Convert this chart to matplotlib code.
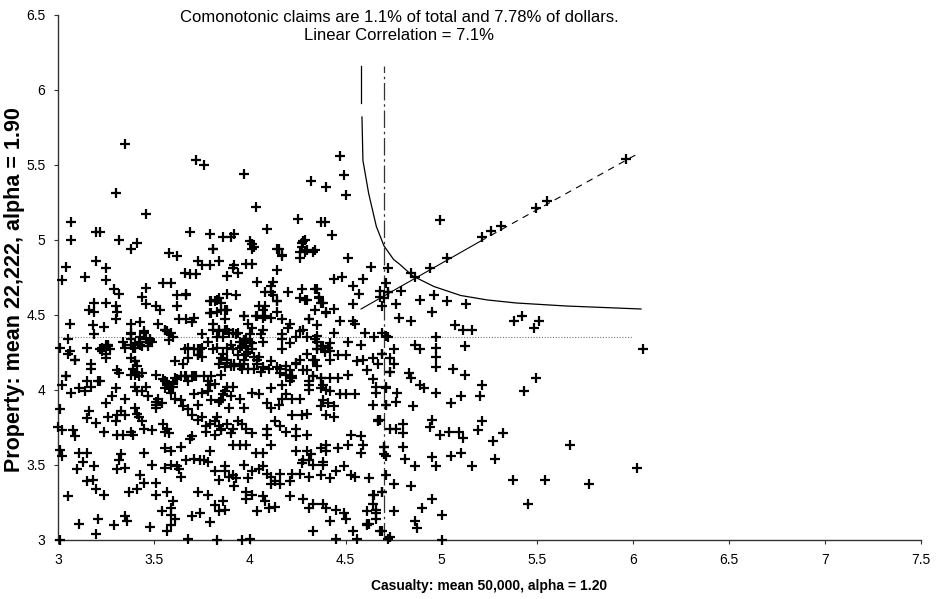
import numpy as np
import matplotlib
matplotlib.use("Agg")
import matplotlib.pyplot as plt

plt.rcParams['font.family'] = ['Liberation Sans', 'DejaVu Sans']

# log10 claim sizes: (casualty, property)
cluster_pts = [
    (3.07, 5.12), (3.07, 5.00), (3.35, 5.64), (3.30, 5.31), (3.32, 5.00), (3.20, 5.05), (3.22, 5.05),
    (3.46, 5.17), (3.38, 4.94), (3.41, 4.98), (3.72, 5.53), (3.76, 5.50), (3.69, 5.05), (3.79, 5.04),
    (3.81, 4.94), (3.86, 5.02), (3.90, 5.02), (3.92, 5.04), (3.97, 5.44), (4.03, 5.22), (4.00, 4.99),
    (4.02, 4.95), (4.09, 5.07), (4.14, 4.94), (4.17, 4.90), (4.25, 5.14), (4.32, 5.39), (4.40, 5.35),
    (4.37, 5.12), (4.39, 5.12), (4.27, 4.98), (4.29, 5.00), (4.26, 4.92), (4.29, 4.92), (4.33, 4.92),
    (3.58, 4.91), (3.62, 4.89), (4.47, 5.56), (4.49, 5.43), (4.50, 5.30), (4.43, 5.03), (4.01, 4.97),
    (4.01, 4.94), (4.28, 4.99), (4.27, 4.95), (4.30, 4.93), (4.34, 4.93), (4.26, 4.88), (4.15, 4.94),
    (4.17, 4.89), (4.51, 4.88), (4.63, 4.82), (4.72, 4.81), (4.44, 4.74), (4.48, 4.75), (4.59, 4.74),
    (4.54, 4.69), (4.57, 4.64), (4.54, 4.57), (4.68, 4.66), (4.70, 4.61), (4.69, 4.56), (4.72, 4.65),
    (4.71, 4.71), (3.98, 4.84), (4.01, 4.84), (3.92, 4.83), (3.91, 4.81), (3.94, 4.78), (3.88, 4.76),
    (4.14, 4.80), (4.04, 4.72), (4.12, 4.72), (4.11, 4.69), (4.08, 4.65), (4.11, 4.65), (4.12, 4.63),
    (4.20, 4.65), (4.14, 4.59), (3.88, 4.64), (3.93, 4.63), (4.26, 4.61), (4.29, 4.60), (4.34, 4.67),
    (4.36, 4.62), (4.37, 4.58), (4.40, 4.52), (4.44, 4.54), (4.34, 4.53), (4.05, 4.56), (4.08, 4.56),
    (3.87, 4.53), (3.97, 4.49), (4.03, 4.49), (4.07, 4.48), (4.11, 4.48), (4.17, 4.47), (4.21, 4.44),
    (4.31, 4.47), (4.35, 4.43), (4.47, 4.46), (4.54, 4.46), (4.55, 4.44), (3.87, 4.47), (3.87, 4.40),
    (3.91, 4.38), (3.94, 4.38), (4.00, 4.37), (4.06, 4.37), (4.07, 4.32), (4.17, 4.37), (4.20, 4.41),
    (4.26, 4.39), (4.35, 4.36), (4.44, 4.38), (4.60, 4.38), (4.65, 4.35), (4.69, 4.38), (4.71, 4.36),
    (4.51, 4.32), (4.58, 4.30), (3.97, 4.33), (4.01, 4.31), (4.35, 4.32), (4.42, 4.31),
    (3.04, 4.82), (3.02, 4.73), (3.20, 4.86), (3.25, 4.81), (3.14, 4.75), (3.25, 4.73), (3.29, 4.67),
    (3.32, 4.64), (3.46, 4.68), (3.44, 4.62), (3.46, 4.57), (3.51, 4.56), (3.53, 4.53), (3.55, 4.71),
    (3.59, 4.71), (3.62, 4.63), (3.67, 4.64), (3.66, 4.78), (3.69, 4.77), (3.72, 4.77), (3.73, 4.86),
    (3.75, 4.83), (3.79, 4.83), (3.84, 4.86), (3.81, 4.94), (3.19, 4.58), (3.16, 4.53), (3.19, 4.52),
    (3.25, 4.58), (3.30, 4.56), (3.31, 4.52), (3.30, 4.47), (3.06, 4.44), (3.05, 4.34), (3.18, 4.43),
    (3.19, 4.37), (3.24, 4.42), (3.38, 4.44), (3.43, 4.45), (3.38, 4.38), (3.45, 4.38), (3.48, 4.33),
    (3.49, 4.32), (3.34, 4.32), (3.52, 4.44), (3.56, 4.40), (3.58, 4.37), (3.59, 4.38), (3.58, 4.33),
    (3.63, 4.47), (3.67, 4.47), (3.70, 4.45), (3.71, 4.48), (3.75, 4.37), (3.78, 4.32), (3.81, 4.40),
    (3.84, 4.39), (3.80, 4.51), (3.83, 4.52), (3.79, 4.59), (3.82, 4.59), (3.84, 4.61), (3.85, 4.53),
    (3.15, 4.28), (3.25, 4.30), (3.26, 4.30), (3.01, 4.28), (3.38, 4.30), (3.40, 4.28), (3.43, 4.30),
    (3.68, 4.28), (3.73, 4.27), (3.05, 4.24), (3.09, 4.20), (3.04, 4.09), (3.02, 4.03), (3.17, 4.17),
    (3.17, 4.14), (3.22, 4.27), (3.23, 4.26), (3.26, 4.29), (3.27, 4.27), (3.22, 4.06), (3.31, 4.13),
    (3.32, 4.11), (3.35, 4.28), (3.38, 4.34), (3.38, 4.37), (3.40, 4.31), (3.42, 4.32), (3.38, 4.21),
    (3.40, 4.19), (3.41, 4.16), (3.41, 4.11), (3.42, 4.09), (3.38, 4.10), (3.45, 4.39), (3.46, 4.34),
    (3.47, 4.32), (3.48, 4.34), (3.43, 4.35), (3.46, 4.02), (3.51, 4.10), (3.56, 4.40), (3.57, 4.39),
    (3.60, 4.35), (3.62, 4.56), (3.67, 4.63), (3.55, 4.07), (3.57, 4.05), (3.58, 4.02), (3.60, 4.04),
    (3.62, 4.07), (3.64, 4.09), (3.66, 4.09), (3.70, 4.09), (3.72, 4.09), (3.76, 4.09), (3.79, 4.03),
    (3.66, 4.27), (3.68, 4.21), (3.71, 4.27), (3.74, 4.27), (3.73, 4.23), (3.75, 4.22), (3.81, 4.44),
    (3.84, 4.40), (3.83, 4.35), (3.86, 4.35), (3.88, 4.40), (3.89, 4.38), (3.93, 4.37), (3.95, 4.32),
    (3.90, 4.30), (3.81, 4.27), (3.83, 4.28), (3.86, 4.24), (3.88, 4.18), (3.87, 4.15), (3.90, 4.16),
    (3.92, 4.16), (3.95, 4.16), (3.97, 4.17), (3.80, 4.59), (3.83, 4.60), (3.85, 4.58), (3.88, 4.53),
    (3.79, 4.51), (3.97, 4.49), (3.99, 4.44), (4.01, 4.41), (4.04, 4.49), (4.07, 4.53), (4.08, 4.49),
    (4.14, 4.52), (4.14, 4.59), (4.07, 4.40), (3.96, 4.29), (3.98, 4.34), (4.00, 4.32), (4.01, 4.27),
    (4.02, 4.22), (3.99, 4.25), (3.97, 4.20), (4.05, 4.22), (4.07, 4.15), (4.10, 4.14), (4.14, 4.15),
    (4.16, 4.11), (4.19, 4.10), (4.21, 4.06), (4.17, 4.03), (4.22, 4.09), (4.21, 4.31), (4.17, 4.34),
    (4.24, 4.35), (4.30, 4.35), (4.34, 4.34), (4.35, 4.27), (4.33, 4.20), (4.37, 4.29), (4.39, 4.25),
    (4.41, 4.28), (4.35, 4.16), (4.33, 4.09), (4.37, 4.08), (4.40, 4.00), (4.24, 4.17), (4.26, 4.20),
    (4.28, 4.13), (4.31, 4.03), (4.38, 4.03), (4.27, 4.67), (4.30, 4.60), (4.35, 4.67), (4.36, 4.61),
    (4.38, 4.58), (4.40, 4.51), (4.31, 4.47), (4.28, 4.40),
    (3.06, 4.26), (3.09, 4.20), (3.23, 4.28), (3.25, 4.24), (3.25, 4.21), (3.39, 4.28), (3.44, 4.29),
    (3.47, 4.29), (3.40, 4.19), (3.39, 4.14), (3.40, 4.10), (3.44, 4.11), (3.04, 4.09), (3.07, 3.98),
    (3.11, 4.01), (3.14, 3.99), (3.15, 4.06), (3.17, 4.02), (3.21, 4.06), (3.30, 4.01), (3.28, 3.96),
    (3.25, 3.91), (3.35, 3.94), (3.40, 4.02), (3.41, 3.99), (3.44, 3.99), (3.47, 3.96), (3.51, 3.92),
    (3.52, 3.94), (3.56, 4.06), (3.57, 4.03), (3.60, 4.02), (3.61, 4.08), (3.67, 4.09), (3.68, 4.06),
    (3.71, 4.09), (3.78, 4.06), (3.80, 4.09), (3.82, 4.04), (3.85, 4.10), (3.84, 4.17), (3.85, 4.21),
    (3.75, 4.28), (3.73, 4.23), (3.65, 4.17), (3.61, 4.19), (3.56, 4.01), (3.59, 3.98), (3.61, 3.94),
    (3.64, 3.93), (3.65, 3.89), (3.68, 3.87), (3.70, 3.83), (3.73, 3.90), (3.71, 3.97), (3.75, 3.98),
    (3.78, 3.99), (3.80, 3.93), (3.84, 3.92), (3.85, 3.93), (3.87, 3.99), (3.75, 3.82), (3.73, 3.80),
    (3.77, 3.76), (3.79, 3.77), (3.82, 3.79), (3.84, 3.76), (3.85, 3.73), (3.82, 3.70), (3.77, 3.72),
    (3.83, 3.82), (3.01, 3.87), (3.02, 3.73), (3.08, 3.73), (3.09, 3.69), (3.16, 3.86), (3.15, 3.81),
    (3.20, 3.78), (3.24, 3.72), (3.26, 3.82), (3.30, 3.79), (3.31, 3.83), (3.33, 3.86), (3.35, 3.83),
    (3.31, 3.70), (3.34, 3.70), (3.38, 3.72), (3.39, 3.70), (3.40, 3.88), (3.41, 3.84), (3.42, 3.82),
    (3.44, 3.79), (3.45, 3.74), (3.49, 3.73), (3.51, 3.88), (3.51, 3.90), (3.54, 3.91), (3.55, 3.77),
    (3.56, 3.72), (3.57, 3.74), (3.58, 3.71), (3.56, 3.61), (3.59, 3.59), (3.64, 3.62), (3.67, 3.53),
    (3.69, 3.67), (3.70, 3.69), (3.71, 3.54), (3.74, 3.53), (3.76, 3.53), (3.78, 3.52), (3.79, 3.59),
    (3.82, 3.46), (3.84, 3.40), (3.87, 3.46), (3.01, 3.60), (3.02, 3.56), (3.11, 3.58), (3.15, 3.58),
    (3.13, 3.52), (3.10, 3.47), (3.19, 3.49), (3.31, 3.47), (3.35, 3.48), (3.33, 3.57), (3.32, 3.53),
    (3.45, 3.58), (3.43, 3.43), (3.49, 3.50), (3.56, 3.48), (3.59, 3.50), (3.62, 3.49), (3.63, 3.47),
    (3.64, 3.42), (3.51, 3.38), (3.45, 3.38), (3.41, 3.34), (3.37, 3.32), (3.15, 3.39), (3.18, 3.40),
    (3.20, 3.34), (3.24, 3.30), (3.05, 3.29), (3.51, 3.30), (3.57, 3.32), (3.54, 3.19), (3.59, 3.21),
    (3.60, 3.26), (3.59, 3.17), (3.61, 3.14), (3.70, 3.16), (3.74, 3.18), (3.78, 3.30), (3.73, 3.32),
    (3.79, 3.12), (3.82, 3.23), (3.84, 3.19), (3.86, 3.26), (3.11, 3.11), (3.21, 3.14), (3.20, 3.04),
    (3.29, 3.10), (3.36, 3.13), (3.35, 3.16), (3.48, 3.09), (3.59, 3.10), (3.57, 3.06), (3.68, 3.01),
    (3.83, 3.00), (3.01, 3.00), (3.00, 3.75),
    (3.88, 4.28), (3.91, 4.27), (3.95, 4.28), (3.98, 4.29), (3.98, 4.24), (3.94, 4.23), (3.88, 4.20),
    (3.92, 4.17), (3.96, 4.14), (3.99, 4.14), (4.02, 4.14), (4.04, 4.20), (4.04, 4.17), (4.06, 4.12),
    (4.11, 4.19), (4.17, 4.27), (4.16, 4.14), (4.19, 4.16), (4.21, 4.13), (4.24, 4.18), (4.22, 4.08),
    (4.30, 4.24), (4.34, 4.20), (4.35, 4.27), (4.38, 4.29), (4.42, 4.26), (4.46, 4.23), (4.50, 4.23),
    (4.42, 4.20), (4.30, 4.13), (4.33, 4.09), (4.31, 4.06), (4.37, 4.08), (4.42, 4.08), (4.46, 4.08),
    (4.51, 4.10), (4.56, 4.19), (4.59, 4.20), (4.64, 4.21), (4.69, 4.24), (4.61, 4.13), (4.64, 4.07),
    (4.66, 4.02), (4.71, 4.01), (4.73, 4.12), (4.75, 4.17), (3.88, 4.02), (3.91, 4.02), (3.86, 3.97),
    (3.90, 3.96), (3.89, 3.88), (3.95, 3.94), (3.97, 3.88), (4.01, 3.98), (4.05, 3.97), (4.11, 4.01),
    (4.09, 3.91), (4.11, 3.88), (4.15, 3.90), (4.17, 3.94), (4.19, 3.97), (4.22, 3.94), (4.26, 3.94),
    (4.22, 3.83), (4.27, 3.83), (4.30, 3.84), (4.37, 3.89), (4.38, 3.93), (4.41, 3.91), (4.44, 3.89),
    (4.40, 3.83), (4.44, 3.82), (4.31, 4.00), (4.37, 4.01), (4.42, 3.99), (4.47, 3.97), (4.50, 3.97),
    (4.55, 3.97), (4.64, 3.90), (4.71, 3.90), (4.68, 3.80), (3.88, 3.77), (3.91, 3.74), (3.94, 3.79),
    (3.96, 3.77), (3.98, 3.74), (4.01, 3.71), (3.90, 3.71), (3.85, 3.74), (3.91, 3.63), (3.95, 3.63),
    (3.98, 3.63), (4.03, 3.58), (4.07, 3.58), (4.11, 3.63), (4.09, 3.74), (4.09, 3.70), (4.13, 3.79),
    (4.16, 3.76), (4.19, 3.72), (4.24, 3.74), (4.24, 3.69), (4.30, 3.70), (4.24, 3.59), (4.30, 3.59),
    (4.32, 3.57), (4.28, 3.53), (4.31, 3.53), (4.27, 3.51), (4.33, 3.50), (4.37, 3.61), (4.40, 3.63),
    (4.40, 3.59), (4.46, 3.61), (4.51, 3.63), (4.53, 3.70), (4.58, 3.69), (4.59, 3.63), (4.58, 3.58),
    (4.38, 3.52), (4.38, 3.50), (4.45, 3.46), (4.49, 3.49), (4.53, 3.43), (4.55, 3.42), (4.62, 3.41),
    (4.70, 3.62), (4.70, 3.57), (4.76, 3.74), (3.87, 3.49), (3.89, 3.42), (3.91, 3.43), (3.93, 3.41),
    (3.92, 3.36), (3.97, 3.50), (4.01, 3.46), (4.05, 3.47), (4.07, 3.49), (4.09, 3.44), (4.11, 3.42),
    (4.13, 3.39), (4.16, 3.44), (4.11, 3.37), (4.16, 3.37), (4.21, 3.39), (4.22, 3.44), (4.26, 3.44),
    (4.31, 3.42), (4.37, 3.43), (4.42, 3.41), (3.98, 3.32), (3.98, 3.27), (3.99, 3.41), (4.07, 3.29),
    (4.08, 3.26), (4.13, 3.22), (4.10, 3.21), (4.04, 3.19), (4.01, 3.30), (4.21, 3.29), (4.28, 3.27),
    (4.31, 3.21), (4.33, 3.24), (4.38, 3.24), (4.40, 3.21), (4.42, 3.13), (4.45, 3.20), (4.49, 3.18),
    (4.50, 3.14), (4.61, 3.19), (4.64, 3.24), (4.65, 3.30), (4.69, 3.32), (4.67, 3.79), (4.66, 3.14),
    (4.62, 3.11), (4.61, 3.10), (4.69, 3.06), (4.75, 3.19), (4.72, 3.01), (4.54, 3.06), (4.56, 3.01),
    (4.45, 3.01), (4.33, 3.06), (4.00, 3.01), (3.96, 3.00), (3.87, 3.20),
]

tail_pts = [
    (4.99, 5.13), (4.79, 4.66), (4.76, 4.57), (4.89, 4.60), (4.96, 4.63), (5.03, 4.59), (5.13, 4.57),
    (4.95, 4.52), (4.78, 4.48), (4.84, 4.46), (5.07, 4.43), (5.11, 4.40), (5.16, 4.40), (5.38, 4.46),
    (5.42, 4.49), (5.48, 4.41), (5.51, 4.46), (6.05, 4.27), (4.97, 4.35), (4.72, 4.35), (4.86, 4.30),
    (4.89, 4.27), (4.97, 4.28), (4.97, 4.22), (5.12, 4.29), (4.75, 4.27), (4.73, 4.21), (4.69, 4.24),
    (4.67, 4.17), (4.73, 4.12), (4.97, 4.15), (5.06, 4.14), (5.12, 4.10), (4.83, 4.11), (4.84, 4.08),
    (4.89, 4.03), (4.91, 4.01), (4.97, 3.98), (5.10, 3.96), (5.21, 4.03), (5.20, 3.96), (5.49, 4.08),
    (5.43, 3.99), (4.77, 3.98), (4.71, 4.02), (4.66, 3.98), (5.05, 3.91), (4.85, 3.89), (4.76, 3.92),
    (4.71, 3.90), (4.67, 3.80), (4.73, 3.74), (4.80, 3.77), (4.80, 3.71), (4.95, 3.80), (4.94, 3.75),
    (4.99, 3.70), (5.04, 3.72), (5.09, 3.72), (5.11, 3.68), (5.19, 3.73), (5.21, 3.79), (5.27, 3.66),
    (5.32, 3.71), (5.67, 3.63), (6.02, 3.48), (4.70, 3.62), (4.71, 3.56), (4.80, 3.62), (4.81, 3.54),
    (4.86, 3.49), (4.95, 3.55), (4.97, 3.49), (5.05, 3.56), (5.10, 3.58), (5.16, 3.49), (5.28, 3.54),
    (5.37, 3.40), (5.54, 3.40), (5.77, 3.37), (5.45, 3.24), (4.71, 3.43), (4.75, 3.37), (4.69, 3.32),
    (4.64, 3.30), (4.84, 3.36), (4.95, 3.27), (4.90, 3.21), (5.00, 3.17), (4.86, 3.13), (4.87, 3.08),
    (4.73, 3.02), (5.00, 3.00), (4.68, 3.06), (4.61, 3.11), (4.66, 3.18), (4.66, 3.20),
]

comonotonic_pts = [
    (4.68, 4.62), (4.72, 4.65), (4.84, 4.78), (4.86, 4.75), (4.94, 4.81), (5.03, 4.88), (5.21, 5.02),
    (5.26, 5.06), (5.31, 5.09), (5.49, 5.21), (5.55, 5.26), (5.96, 5.54),
]

# iso-curve
curve_x = [4.58, 4.58, 4.585, 4.59, 4.62, 4.66, 4.70, 4.75, 4.78, 4.85, 4.96, 5.10, 5.24, 5.39, 5.65, 6.04]
curve_y = [6.16, 5.91, 5.82, 5.53, 5.31, 5.09, 4.96, 4.87, 4.84, 4.76, 4.69, 4.63, 4.60, 4.58, 4.56, 4.54]

# comonotonic fit line, solid part then dashed part
fit_solid_x = [4.58, 5.20]
fit_solid_y = [4.54, 4.99]
fit_dash_x = [5.20, 6.03]
fit_dash_y = [4.99, 5.58]

vline_x = 4.70
vline_top = 6.16
hline_y = 4.35
hline_end = 6.0

title_lines = "Comonotonic claims are 1.1% of total and 7.78% of dollars.\nLinear Correlation = 7.1%"

fig = plt.figure(figsize=(9.36, 5.99), dpi=100)
ax = fig.add_axes([58 / 936, 1 - 540 / 599, (921 - 58) / 936, (540 - 15) / 599])

allp = np.array(cluster_pts + tail_pts + comonotonic_pts)
ax.scatter(allp[:, 0], allp[:, 1], marker='+', s=42, linewidths=1.6, color='black', zorder=3, clip_on=False)

ax.plot(curve_x[:2], curve_y[:2], color='black', lw=0.9)
ax.plot(curve_x[2:], curve_y[2:], color='black', lw=0.9)
ax.plot(fit_solid_x, fit_solid_y, color='black', lw=0.8)
ax.plot(fit_dash_x, fit_dash_y, color='black', lw=0.8, dashes=(6, 5))
ax.plot([vline_x, vline_x], [3, vline_top], color='#333333', lw=0.9, dashes=(14, 3, 2, 3))
ax.plot([3, hline_end], [hline_y, hline_y], color='#777777', lw=0.8, dashes=(1, 1.5))

ax.set_xlim(3, 7.5)
ax.set_ylim(3, 6.5)
ax.set_xticks(np.arange(3, 7.51, 0.5))
ax.set_yticks(np.arange(3, 6.51, 0.5))
ax.set_xticklabels(['3', '3.5', '4', '4.5', '5', '5.5', '6', '6.5', '7', '7.5'])
ax.set_yticklabels(['3', '3.5', '4', '4.5', '5', '5.5', '6', '6.5'])
ax.tick_params(labelsize=10, length=3, width=0.8, pad=6, color='#333333')
for s in ['top', 'right']:
    ax.spines[s].set_visible(False)
for s in ['left', 'bottom']:
    ax.spines[s].set_color('#333333')
    ax.spines[s].set_linewidth(1.0)

ax.set_xlabel('Casualty: mean 50,000, alpha = 1.20', fontsize=10, fontweight='bold', labelpad=9)
fig.text(15 / 936, 1 - 290 / 599, 'Property: mean 22,222, alpha = 1.90', rotation=90,
         ha='center', va='center', fontsize=15.5, fontweight='bold')
fig.text(399 / 936, 1 - 27 / 599, title_lines, ha='center', va='center', fontsize=12, linespacing=1.25)

fig.savefig('out.png', dpi=100)
